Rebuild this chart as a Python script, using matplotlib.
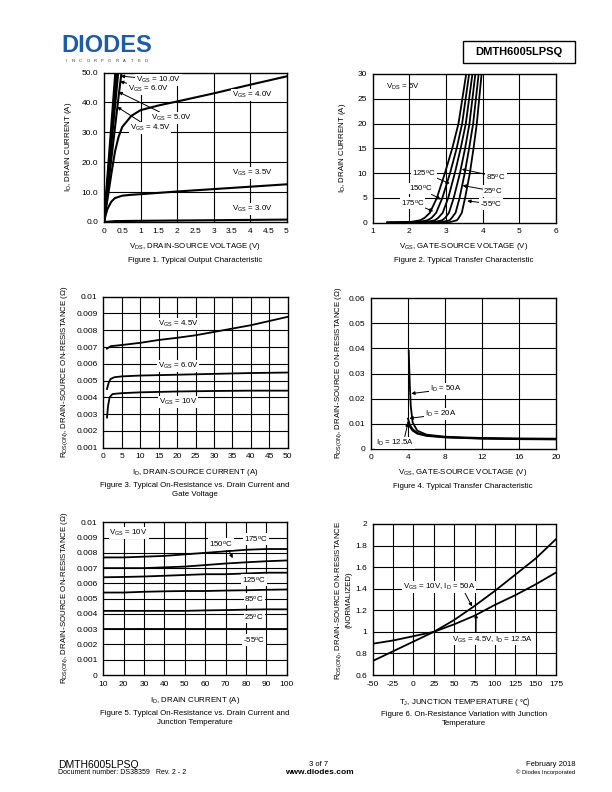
import matplotlib

matplotlib.use('Agg')
import matplotlib.pyplot as plt

plt.rcParams['font.family'] = ['Liberation Sans', 'DejaVu Sans']
plt.rcParams['mathtext.fontset'] = 'custom'
plt.rcParams['mathtext.rm'] = 'Liberation Sans'
plt.rcParams['mathtext.it'] = 'Liberation Sans:italic'
plt.rcParams['mathtext.bf'] = 'Liberation Sans:bold'
plt.rcParams['axes.unicode_minus'] = False

W, H = 612, 792

# Figure 1 - output characteristic (VDS, ID)
vds_10v = [0, 0.31]
id_10v = [0, 50]
vds_6v = [0, 0.35]
id_6v = [0, 50]
vds_5v = [0, 0.39]
id_5v = [0, 50]
vds_45v = [0, 0.1, 0.2, 0.3, 0.4, 0.48]
id_45v = [0, 10.5, 21, 31.5, 42, 50]
vds_4v = [0, 0.1, 0.2, 0.3, 0.4, 0.5, 0.75, 1.0, 1.5, 2.0, 3.0, 4.0, 5.0]
id_4v = [0, 8, 16, 23.5, 28.5, 31.8, 35.5, 37.4, 39.0, 40.3, 43.0, 45.9, 48.7]
vds_35v = [0, 0.05, 0.1, 0.2, 0.3, 0.5, 0.75, 1.0, 2.0, 3.0, 4.0, 5.0]
id_35v = [0, 2.5, 4.5, 6.8, 8.0, 8.8, 9.1, 9.3, 10.2, 11.0, 11.8, 12.6]
vds_3v = [0, 0.3, 1.0, 2.0, 3.0, 4.0, 5.0]
id_3v = [0, 0.3, 0.4, 0.5, 0.6, 0.7, 0.8]

# Figure 2 - transfer characteristic (VGS, ID), VDS = 5V
id_levels = [0, 0.1, 0.5, 1, 2, 5, 10, 15, 20, 30]
vgs_175c = [1.4, 2.00, 2.30, 2.42, 2.56, 2.75, 2.97, 3.17, 3.34, 3.55]
vgs_150c = [1.4, 2.22, 2.50, 2.61, 2.73, 2.90, 3.11, 3.29, 3.44, 3.63]
vgs_125c = [1.4, 2.44, 2.70, 2.79, 2.91, 3.06, 3.24, 3.40, 3.54, 3.72]
vgs_85c = [1.4, 2.66, 2.90, 2.98, 3.08, 3.21, 3.38, 3.52, 3.64, 3.80]
vgs_25c = [1.4, 2.88, 3.10, 3.16, 3.26, 3.37, 3.51, 3.63, 3.74, 3.89]
vgs_m55c = [1.4, 3.10, 3.30, 3.35, 3.43, 3.52, 3.65, 3.75, 3.84, 3.97]

# Figure 3 - RDS(on) vs ID at gate voltages
id3_45v = [1, 2, 5, 10, 15, 20, 25, 30, 35, 40, 45, 50]
rds3_45v = [0.0069, 0.00705, 0.00712, 0.00725, 0.00742, 0.00755, 0.0077, 0.0079, 0.0081, 0.0083, 0.00855, 0.0088]
id3_6v = [1, 1.5, 2, 3, 5, 10, 20, 30, 40, 50]
rds3_6v = [0.0045, 0.0049, 0.0051, 0.0052, 0.00525, 0.0053, 0.00535, 0.0054, 0.00545, 0.00548]
id3_10v = [1, 1.3, 1.7, 2.5, 5, 10, 20, 30, 40, 50]
rds3_10v = [0.0028, 0.0035, 0.0040, 0.0042, 0.00425, 0.0043, 0.00435, 0.00438, 0.0044, 0.0044]

# Figure 4 - RDS(on) vs VGS at drain currents
vgs4_50a = [4.08, 4.12, 4.2, 4.3, 4.5, 5, 6, 8, 10, 12, 16, 20]
rds4_50a = [0.039, 0.034, 0.025, 0.017, 0.0105, 0.0072, 0.0056, 0.0048, 0.0045, 0.0043, 0.0041, 0.004]
vgs4_20a = [4.0, 4.2, 4.5, 5, 6, 8, 12, 16, 20]
rds4_20a = [0.012, 0.0095, 0.0078, 0.0063, 0.0053, 0.0046, 0.0041, 0.0039, 0.0038]
vgs4_125a = [4.0, 4.2, 4.5, 5, 6, 8, 12, 16, 20]
rds4_125a = [0.0105, 0.0088, 0.0072, 0.006, 0.0051, 0.0045, 0.004, 0.0038, 0.0037]

# Figure 5 - RDS(on) vs ID at junction temperatures, VGS = 10V
id5 = [10, 20, 30, 40, 50, 60, 70, 80, 90, 100]
rds5_175c = [0.0077, 0.0077, 0.00775, 0.0078, 0.0079, 0.0080, 0.0081, 0.0082, 0.00825, 0.00825]
rds5_150c = [0.0070, 0.0070, 0.0070, 0.00705, 0.0071, 0.0072, 0.0073, 0.00738, 0.00745, 0.0075]
rds5_125c = [0.0064, 0.00642, 0.00645, 0.0065, 0.00655, 0.0066, 0.0066, 0.00665, 0.0067, 0.0067]
rds5_85c = [0.0054, 0.0054, 0.00545, 0.00548, 0.0055, 0.0055, 0.00553, 0.00555, 0.00558, 0.0056]
rds5_25c = [0.0042, 0.0042, 0.0042, 0.0042, 0.0042, 0.00423, 0.00425, 0.00428, 0.0043, 0.0043]
rds5_m55c = [0.0030, 0.0030, 0.0030, 0.0030, 0.0030, 0.0030, 0.0030, 0.0030, 0.0030, 0.0030]

# Figure 6 - normalized RDS(on) vs TJ
tj6 = [-50, -25, 0, 25, 50, 75, 100, 125, 150, 175]
norm_10v = [0.73, 0.82, 0.91, 1.0, 1.11, 1.24, 1.38, 1.53, 1.68, 1.86]
norm_45v = [0.89, 0.92, 0.96, 1.0, 1.07, 1.15, 1.25, 1.34, 1.44, 1.55]

FS = 5.7  # 軸ラベル・注記の文字サイズ


def fx(x):
    return x / W


def fy(y):
    return 1 - y / H


def make_axes(fig, left, top, right, bottom):
    ax = fig.add_axes([fx(left), fy(bottom), (right - left) / W, (bottom - top) / H])
    ax.tick_params(length=0, labelsize=6, pad=4)
    for sp in ax.spines.values():
        sp.set_linewidth(1.0)
    return ax


def grid(ax, xs, ys):
    for x in xs:
        ax.axvline(x, color='black', lw=0.8, zorder=0)
    for y in ys:
        ax.axhline(y, color='black', lw=0.8, zorder=0)


def label(ax, text, xy, xytext=None, ha='left', box=True, relpos=(0.5, 0.5)):
    kw = dict(fontsize=FS, ha=ha, va='center', zorder=5)
    if box:
        kw['bbox'] = dict(fc='white', ec='none', pad=0.6)
    if xytext is None:
        ax.text(xy[0], xy[1], text, **kw)
    else:
        ax.annotate(text, xy=xy, xytext=xytext,
                    arrowprops=dict(arrowstyle='-|>', color='black', lw=0.7, mutation_scale=5,
                                    shrinkA=0, shrinkB=0, relpos=relpos), **kw)


def main():
    fig = plt.figure(figsize=(W / 100, H / 100), dpi=100)

    # header
    fig.text(fx(61), fy(45), 'DIODES', fontsize=17, fontweight='bold', color='#1d5ca8', va='center', ha='left')
    for i, ch in enumerate('INCORPORATED'):
        fig.text(fx(66 + i * 7.3), fy(60.5), ch, fontsize=3, color='#333333', va='center', ha='center')
    fig.patches.append(plt.Rectangle((fx(463), fy(63)), 112 / W, 22 / H, transform=fig.transFigure,
                                     fill=False, ec='black', lw=1.0))
    fig.text(fx(519), fy(52), 'DMTH6005LPSQ', fontsize=8, fontweight='bold', ha='center', va='center')

    lw = 1.3

    # Figure 1
    ax = make_axes(fig, 104, 72.5, 286.5, 222)
    grid(ax, [1, 2, 3, 4], [10, 20, 30, 40])
    for xs, ys in [(vds_10v, id_10v), (vds_6v, id_6v), (vds_5v, id_5v), (vds_45v, id_45v),
                   (vds_4v, id_4v), (vds_35v, id_35v), (vds_3v, id_3v)]:
        ax.plot(xs, ys, color='black', lw=1.5)
    ax.set_xlim(0, 5)
    ax.set_ylim(0, 50)
    ax.set_xticks([0, 0.5, 1, 1.5, 2, 2.5, 3, 3.5, 4, 4.5, 5])
    ax.set_xticklabels(['0', '0.5', '1', '1.5', '2', '2.5', '3', '3.5', '4', '4.5', '5'])
    ax.set_yticks([0, 10, 20, 30, 40, 50])
    ax.set_yticklabels(['0.0', '10.0', '20.0', '30.0', '40.0', '50.0'])
    label(ax, 'V$_{\\mathrm{GS}}$ = 10.0V', (0.46, 48.8), (0.88, 47.6))
    label(ax, 'V$_{\\mathrm{GS}}$ = 6.0V', (0.44, 47.0), (0.66, 44.5))
    label(ax, 'V$_{\\mathrm{GS}}$ = 5.0V', (0.4, 43.5), (1.3, 34.8))
    label(ax, 'V$_{\\mathrm{GS}}$ = 4.5V', (0.36, 38.5), (0.7, 31.5))
    label(ax, 'V$_{\\mathrm{GS}}$ = 4.0V', (3.5, 42.5))
    label(ax, 'V$_{\\mathrm{GS}}$ = 3.5V', (3.5, 16.4))
    label(ax, 'V$_{\\mathrm{GS}}$ = 3.0V', (3.5, 4.3))
    fig.text(fx(195), fy(247), 'V$_{\\mathrm{DS}}$, DRAIN-SOURCE VOLTAGE (V)', fontsize=FS, ha='center', va='center')
    fig.text(fx(195), fy(260), 'Figure 1. Typical Output Characteristic', fontsize=FS, ha='center', va='center')
    fig.text(fx(68), fy(147), 'I$_{\\mathrm{D}}$, DRAIN CURRENT (A)', fontsize=FS, ha='center', va='center',
             rotation=90)

    # Figure 2
    ax = make_axes(fig, 372.7, 74, 556, 222.7)
    grid(ax, [2, 3, 4, 5], [5, 10, 15, 20, 25])
    for vs in [vgs_175c, vgs_150c, vgs_125c, vgs_85c, vgs_25c, vgs_m55c]:
        ax.plot(vs, id_levels, color='black', lw=lw)
    ax.set_xlim(1, 6)
    ax.set_ylim(0, 30)
    ax.set_xticks([1, 2, 3, 4, 5, 6])
    ax.set_yticks([0, 5, 10, 15, 20, 25, 30])
    label(ax, 'V$_{\\mathrm{DS}}$ = 5V', (1.35, 27.3), box=False)
    label(ax, '125$^{\\mathrm{o}}$C', (3.1, 7.9), (2.07, 10.1))
    label(ax, '150$^{\\mathrm{o}}$C', (2.86, 4.7), (1.98, 6.9))
    label(ax, '175$^{\\mathrm{o}}$C', (2.65, 2.3), (1.76, 4.0))
    label(ax, '85$^{\\mathrm{o}}$C', (3.43, 10.8), (4.1, 9.3))
    label(ax, '25$^{\\mathrm{o}}$C', (3.45, 7.5), (4.02, 6.4))
    label(ax, '-55$^{\\mathrm{o}}$C', (3.58, 4.4), (3.93, 3.8))
    fig.text(fx(464), fy(247), 'V$_{\\mathrm{GS}}$, GATE-SOURCE VOLTAGE (V)', fontsize=FS, ha='center', va='center')
    fig.text(fx(464), fy(260), 'Figure 2. Typical Transfer Characteristic', fontsize=FS, ha='center', va='center')
    fig.text(fx(343), fy(148), 'I$_{\\mathrm{D}}$, DRAIN CURRENT (A)', fontsize=FS, ha='center', va='center',
             rotation=90)

    # Figure 3
    ax = make_axes(fig, 103.3, 296.7, 287.7, 447.7)
    grid(ax, [5, 10, 15, 20, 25, 30, 35, 40, 45],
         [0.002, 0.003, 0.004, 0.005, 0.006, 0.007, 0.008, 0.009])
    ax.plot(id3_45v, rds3_45v, color='black', lw=lw)
    ax.plot(id3_6v, rds3_6v, color='black', lw=lw)
    ax.plot(id3_10v, rds3_10v, color='black', lw=lw)
    ax.set_xlim(0, 50)
    ax.set_ylim(0.001, 0.01)
    ax.set_xticks([0, 5, 10, 15, 20, 25, 30, 35, 40, 45, 50])
    ax.set_yticks([0.001, 0.002, 0.003, 0.004, 0.005, 0.006, 0.007, 0.008, 0.009, 0.01])
    ax.set_yticklabels(['0.001', '0.002', '0.003', '0.004', '0.005', '0.006', '0.007', '0.008', '0.009', '0.01'])
    label(ax, 'V$_{\\mathrm{GS}}$ = 4.5V', (20.3, 0.0084), ha='center')
    label(ax, 'V$_{\\mathrm{GS}}$ = 6.0V', (20.3, 0.00587), ha='center')
    label(ax, 'V$_{\\mathrm{GS}}$ = 10V', (20.3, 0.00374), ha='center')
    fig.text(fx(195), fy(473), 'I$_{\\mathrm{D}}$, DRAIN-SOURCE CURRENT (A)', fontsize=FS, ha='center', va='center')
    fig.text(fx(195), fy(490), 'Figure 3. Typical On-Resistance vs. Drain Current and\nGate Voltage',
             fontsize=FS, ha='center', va='center', linespacing=1.3)
    fig.text(fx(65), fy(372), 'R$_{\\mathrm{DS(ON)}}$, DRAIN-SOURCE ON-RESISTANCE (Ω)', fontsize=FS,
             ha='center', va='center', rotation=90)

    # Figure 4
    ax = make_axes(fig, 371, 298.3, 556, 448.7)
    grid(ax, [4, 8, 12, 16], [0.01, 0.02, 0.03, 0.04, 0.05])
    ax.plot(vgs4_125a, rds4_125a, color='black', lw=lw)
    ax.plot(vgs4_20a, rds4_20a, color='black', lw=lw)
    ax.plot(vgs4_50a, rds4_50a, color='black', lw=lw)
    ax.set_xlim(0, 20)
    ax.set_ylim(0, 0.06)
    ax.set_xticks([0, 4, 8, 12, 16, 20])
    ax.set_yticks([0, 0.01, 0.02, 0.03, 0.04, 0.05, 0.06])
    ax.set_yticklabels(['0', '0.01', '0.02', '0.03', '0.04', '0.05', '0.06'])
    label(ax, 'I$_{\\mathrm{D}}$ = 50A', (4.35, 0.022), (6.4, 0.0237))
    label(ax, 'I$_{\\mathrm{D}}$ = 20A', (4.15, 0.0121), (5.85, 0.0137))
    label(ax, 'I$_{\\mathrm{D}}$ = 12.5A', (4.0, 0.0104), (0.55, 0.0024), relpos=(0.75, 1))
    fig.text(fx(463), fy(473), 'V$_{\\mathrm{GS}}$, GATE-SOURCE VOLTAGE (V)', fontsize=FS, ha='center', va='center')
    fig.text(fx(463), fy(486), 'Figure 4. Typical Transfer Characteristic', fontsize=FS, ha='center', va='center')
    fig.text(fx(339), fy(373), 'R$_{\\mathrm{DS(ON)}}$, DRAIN-SOURCE ON-RESISTANCE (Ω)', fontsize=FS,
             ha='center', va='center', rotation=90)

    # Figure 5
    ax = make_axes(fig, 103.3, 522.3, 286.7, 675)
    grid(ax, [20, 30, 40, 50, 60, 70, 80, 90],
         [0.001, 0.002, 0.003, 0.004, 0.005, 0.006, 0.007, 0.008, 0.009])
    for rs in [rds5_175c, rds5_150c, rds5_125c, rds5_85c, rds5_25c, rds5_m55c]:
        ax.plot(id5, rs, color='black', lw=lw)
    ax.set_xlim(10, 100)
    ax.set_ylim(0, 0.01)
    ax.set_xticks([10, 20, 30, 40, 50, 60, 70, 80, 90, 100])
    ax.set_yticks([0, 0.001, 0.002, 0.003, 0.004, 0.005, 0.006, 0.007, 0.008, 0.009, 0.01])
    ax.set_yticklabels(['0', '0.001', '0.002', '0.003', '0.004', '0.005', '0.006', '0.007', '0.008',
                        '0.009', '0.01'])
    label(ax, 'V$_{\\mathrm{GS}}$ = 10V', (13.0, 0.0093))
    label(ax, '150$^{\\mathrm{o}}$C', (73.5, 0.00765), (62.0, 0.00856), relpos=(0.8, 0))
    label(ax, '175$^{\\mathrm{o}}$C', (85.0, 0.0089), ha='center')
    label(ax, '125$^{\\mathrm{o}}$C', (84.0, 0.0062), ha='center')
    label(ax, '85$^{\\mathrm{o}}$C', (84.0, 0.0050), ha='center')
    label(ax, '25$^{\\mathrm{o}}$C', (84.0, 0.0038), ha='center')
    label(ax, '-55$^{\\mathrm{o}}$C', (84.0, 0.0023), ha='center')
    fig.text(fx(195), fy(701), 'I$_{\\mathrm{D}}$, DRAIN CURRENT (A)', fontsize=FS, ha='center', va='center')
    fig.text(fx(195), fy(718), 'Figure 5. Typical On-Resistance vs. Drain Current and\nJunction Temperature',
             fontsize=FS, ha='center', va='center', linespacing=1.3)
    fig.text(fx(65), fy(598), 'R$_{\\mathrm{DS(ON)}}$, DRAIN-SOURCE ON-RESISTANCE (Ω)', fontsize=FS,
             ha='center', va='center', rotation=90)

    # Figure 6
    ax = make_axes(fig, 372.7, 524, 556, 675)
    grid(ax, [-25, 0, 25, 50, 75, 100, 125, 150], [0.8, 1.0, 1.2, 1.4, 1.6, 1.8])
    ax.plot(tj6, norm_10v, color='black', lw=lw)
    ax.plot(tj6, norm_45v, color='black', lw=lw)
    ax.set_xlim(-50, 175)
    ax.set_ylim(0.6, 2.0)
    ax.set_xticks([-50, -25, 0, 25, 50, 75, 100, 125, 150, 175])
    ax.set_xticklabels(['-50', '-25', '0', '25', '50', '75', '100', '125', '150', '175'])
    ax.set_yticks([0.6, 0.8, 1.0, 1.2, 1.4, 1.6, 1.8, 2.0])
    ax.set_yticklabels(['0.6', '0.8', '1', '1.2', '1.4', '1.6', '1.8', '2'])
    label(ax, 'V$_{\\mathrm{GS}}$ = 10V, I$_{\\mathrm{D}}$ = 50A', (72, 1.235), (-13, 1.42), relpos=(0.85, 0))
    label(ax, 'V$_{\\mathrm{GS}}$ = 4.5V, I$_{\\mathrm{D}}$ = 12.5A', (77, 1.165), (47, 0.93), relpos=(0.3, 1))
    # ℃ は Liberation Sans に無いので別テキストで描く
    t = fig.text(fx(459), fy(703), 'T$_{\\mathrm{J}}$, JUNCTION TEMPERATURE (', fontsize=FS,
                 ha='center', va='center')
    fig.add_artist(matplotlib.text.Annotation('℃)', xy=(1, 0.5), xycoords=t, va='center', ha='left',
                                              fontsize=FS, family=['Noto Sans CJK JP', 'DejaVu Sans']))
    fig.text(fx(464), fy(719), 'Figure 6. On-Resistance Variation with Junction\nTemperature',
             fontsize=FS, ha='center', va='center', linespacing=1.3)
    fig.text(fx(343), fy(600), 'R$_{\\mathrm{DS(ON)}}$, DRAIN-SOURCE ON-RESISTANCE\n(NORMALIZED)', fontsize=FS,
             ha='center', va='center', rotation=90, linespacing=1.3)

    # footer
    fig.text(fx(58), fy(765), 'DMTH6005LPSQ', fontsize=7.5, ha='left', va='center')
    fig.text(fx(58), fy(772.5), 'Document number: DS38359   Rev. 2 - 2', fontsize=5, ha='left', va='center')
    fig.text(fx(319), fy(765), '3 of 7', fontsize=5.5, ha='center', va='center')
    fig.text(fx(319), fy(772.5), 'www.diodes.com', fontsize=6, fontweight='bold', ha='center', va='center')
    fig.text(fx(575), fy(765), 'February 2018', fontsize=5.5, ha='right', va='center')
    fig.text(fx(575), fy(772), '© Diodes Incorporated', fontsize=4.2, ha='right', va='center')

    fig.savefig('out.png', dpi=100)


if __name__ == '__main__':
    main()
